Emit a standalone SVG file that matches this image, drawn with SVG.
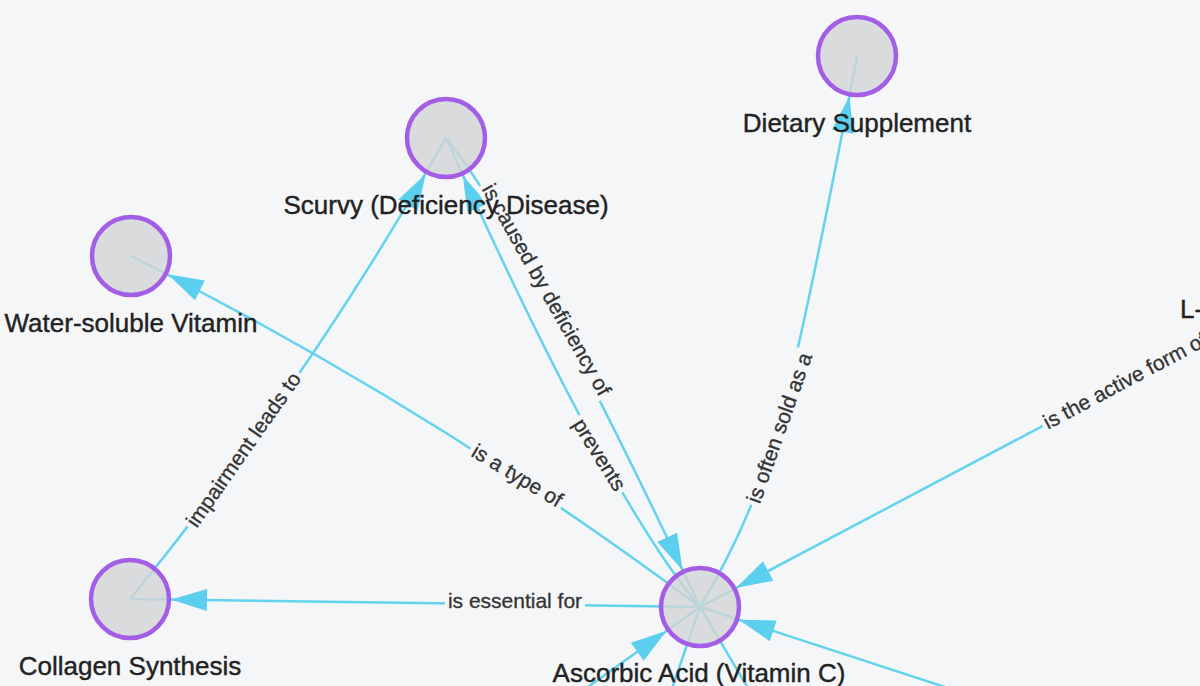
<svg xmlns="http://www.w3.org/2000/svg" width="1200" height="686" viewBox="0 0 1200 686">
<style>
.edge{fill:none;stroke:#63d3ee;stroke-width:2.5}
.ah{fill:#5ccfee}
.node circle{fill:#d3d4d6;fill-opacity:.8;stroke:#a45ee6;stroke-width:4.5}
.nl{font-family:"Liberation Sans",Arial,sans-serif;font-size:26px;fill:#222;stroke:#222;stroke-width:.4;text-anchor:middle}
.el text{font-family:"Liberation Sans",Arial,sans-serif;font-size:21px;fill:#333;stroke:#333;stroke-width:.3;text-anchor:middle}
.el rect{fill:#f4f6f8}
</style>
<defs>
<path id="ah" d="M0,0 L-36,-11 L-36,11 Z"/>
</defs>
<rect x="0" y="0" width="1200" height="686" fill="#f4f6f8"/>
<g id="connectors">
  <path class="edge" d="M700,607 L130,599"/>
  <path class="edge" d="M700,607 Q431,406 131,256"/>
  <path class="edge" d="M130,599 Q308,382 446,138"/>
  <path class="edge" d="M446,138 Q526,237 700,607"/>
  <path class="edge" d="M446,138 Q607,497 700,607"/>
  <path class="edge" d="M700,607 Q752,520 778,428 T857,56"/>
  <path class="edge" d="M1300,290 L700,607"/>
  <path class="edge" d="M1000,705 L700,607"/>
  <path class="edge" d="M560,707 L700,607"/>
  <path class="edge" d="M700,607 L668,700"/>
  <path class="edge" d="M700,607 L755,700"/>
  <use href="#ah" class="ah" transform="translate(171,599.6) rotate(180.8)"/>
  <use href="#ah" class="ah" transform="translate(167.7,274.3) rotate(206.6)"/>
  <use href="#ah" class="ah" transform="translate(425.8,173.7) rotate(-60.5)"/>
  <use href="#ah" class="ah" transform="translate(682.5,569.9) rotate(64.8)"/>
  <use href="#ah" class="ah" transform="translate(462.8,175.4) rotate(245.8)"/>
  <use href="#ah" class="ah" transform="translate(849.4,96.3) rotate(-79.3)"/>
  <use href="#ah" class="ah" transform="translate(736.3,587.8) rotate(152.2)"/>
  <use href="#ah" class="ah" transform="translate(739,619.7) rotate(198.1)"/>
  <use href="#ah" class="ah" transform="translate(666.6,630.8) rotate(-35.5)"/>
  <g class="el" transform="translate(515,601)"><rect x="-70" y="-11" width="140" height="22"/><text x="0" y="6.5">is essential for</text></g>
  <g class="el" transform="translate(517,476) rotate(31)"><rect x="-54" y="-11" width="108" height="22"/><text x="0" y="6.5">is a type of</text></g>
  <g class="el" transform="translate(546,290) rotate(60.5)"><rect x="-123" y="-11" width="246" height="22"/><text x="0" y="6.5">is caused by deficiency of</text></g>
  <g class="el" transform="translate(599,455) rotate(58)"><rect x="-44" y="-11" width="88" height="22"/><text x="0" y="6.5">prevents</text></g>
  <g class="el" transform="translate(244,450) rotate(-55)"><rect x="-95" y="-11" width="190" height="22"/><text x="0" y="6.5">impairment leads to</text></g>
  <g class="el" transform="translate(780,428) rotate(-70.5)"><rect x="-82" y="-11" width="164" height="22"/><text x="0" y="6.5">is often sold as a</text></g>
  <g class="el" transform="translate(1045,424) rotate(-28)"><rect x="-3" y="-11" width="188" height="22"/><text x="91" y="6.5">is the active form of</text></g>
</g>
<g id="node-dietary" class="node"><circle cx="857" cy="56" r="39"/><text class="nl" x="857" y="132">Dietary Supplement</text></g>
<g id="node-scurvy" class="node"><circle cx="446" cy="138" r="39"/><text class="nl" x="446" y="214">Scurvy (Deficiency Disease)</text></g>
<g id="node-water" class="node"><circle cx="131" cy="256" r="39"/><text class="nl" x="131" y="332">Water-soluble Vitamin</text></g>
<g id="node-collagen" class="node"><circle cx="130" cy="599" r="39"/><text class="nl" x="130" y="675">Collagen Synthesis</text></g>
<g id="node-ascorbic" class="node"><circle cx="700" cy="607" r="39"/><text class="nl" x="699" y="682">Ascorbic Acid (Vitamin C)</text></g>
<g id="node-l"><text class="nl" x="1180" y="318" style="text-anchor:start">L-</text></g>
</svg>
